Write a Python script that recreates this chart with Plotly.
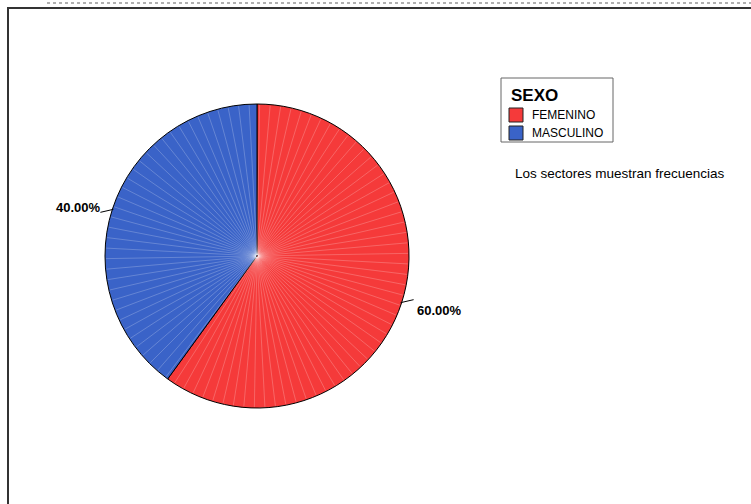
import math
import plotly.graph_objects as go

categories = ["FEMENINO", "MASCULINO"]
values = [60, 40]
label_texts = ["60.00%", "40.00%"]
colors = ["#F53A3A", "#3A63C8"]
legend_title = "SEXO"
footnote = "Los sectores muestran frecuencias"

W, H = 751, 504
cx, cy, r = 257, 256, 152

fig = go.Figure()
fig.add_trace(go.Pie(
    labels=categories, values=values, sort=False, direction="clockwise",
    rotation=0, textinfo="none", hoverinfo="label+percent", showlegend=False,
    marker=dict(colors=colors, line=dict(color="black", width=1)),
    domain=dict(x=[(cx - r) / W, (cx + r) / W], y=[1 - (cy + r) / H, 1 - (cy - r) / H]),
))


def px(x):
    return x / W


def py(y):
    return 1 - y / H


shapes = []
annotations = []

# faint radial rendering streaks inside the pie
for k in range(90):
    a = math.radians(k * 4 + 1)
    shapes.append(dict(type="line", xref="paper", yref="paper",
                       x0=px(cx + 1 * math.cos(a)), y0=py(cy - 1 * math.sin(a)),
                       x1=px(cx + (r - 1) * math.cos(a)), y1=py(cy - (r - 1) * math.sin(a)),
                       line=dict(color="rgba(255,255,255,0.22)", width=1)))

total = sum(values)
cum = 0
for v, t in zip(values, label_texts):
    mid = (cum + v / 2) / total * 360
    cum += v
    ang = math.radians(90 - mid)
    right = math.cos(ang) > 0
    x0 = cx + (r - 1) * math.cos(ang)
    y0 = cy - (r - 1) * math.sin(ang)
    x1 = x0 + (13 if right else -13)
    y1 = y0 - 3 if right else y0 + 3
    shapes.append(dict(type="line", xref="paper", yref="paper",
                       x0=px(x0), y0=py(y0), x1=px(x1), y1=py(y1),
                       line=dict(color="black", width=1)))
    annotations.append(dict(x=px(x1 + (1 if right else 3)), y=py(y1 + 11 if right else y1 - 5),
                            xref="paper", yref="paper", text="<b>%s</b>" % t, showarrow=False,
                            xanchor="left" if right else "right", yanchor="middle",
                            font=dict(size=13, color="black")))

annotations.append(dict(x=px(513), y=py(173), xref="paper", yref="paper",
                        text=footnote, showarrow=False,
                        xanchor="left", yanchor="middle", font=dict(size=13.5, color="black")))

# manual legend box
shapes.append(dict(type="rect", xref="paper", yref="paper", x0=px(501), y0=py(142), x1=px(613), y1=py(78),
                   line=dict(color="#666666", width=1), fillcolor="white"))
annotations.append(dict(x=px(509), y=py(95), xref="paper", yref="paper", text="<b>%s</b>" % legend_title,
                        showarrow=False, xanchor="left", yanchor="middle", font=dict(size=17, color="black")))
for i, (c, lab) in enumerate(zip(colors, categories)):
    top = 108 + i * 18
    shapes.append(dict(type="rect", xref="paper", yref="paper", x0=px(509), y0=py(top + 14), x1=px(523), y1=py(top),
                       line=dict(color="#222222", width=1), fillcolor=c))
    annotations.append(dict(x=px(530), y=py(top + 7.5), xref="paper", yref="paper", text=lab, showarrow=False,
                            xanchor="left", yanchor="middle", font=dict(size=12, color="black")))

# frame and top dotted line
shapes.append(dict(type="rect", xref="paper", yref="paper", x0=px(8), y0=py(520), x1=px(770), y1=py(8),
                   line=dict(color="#333333", width=2), layer="below"))
shapes.append(dict(type="line", xref="paper", yref="paper", x0=px(47), y0=py(3), x1=px(751), y1=py(3),
                   line=dict(color="#B0B0B0", width=2, dash="dot")))

fig.update_layout(
    width=W, height=H, margin=dict(l=0, r=0, t=0, b=0),
    paper_bgcolor="white", plot_bgcolor="white",
    font=dict(family="Liberation Sans, Arial, sans-serif", color="black"),
    showlegend=False,
    shapes=shapes, annotations=annotations,
)

fig.write_html("out.html")
